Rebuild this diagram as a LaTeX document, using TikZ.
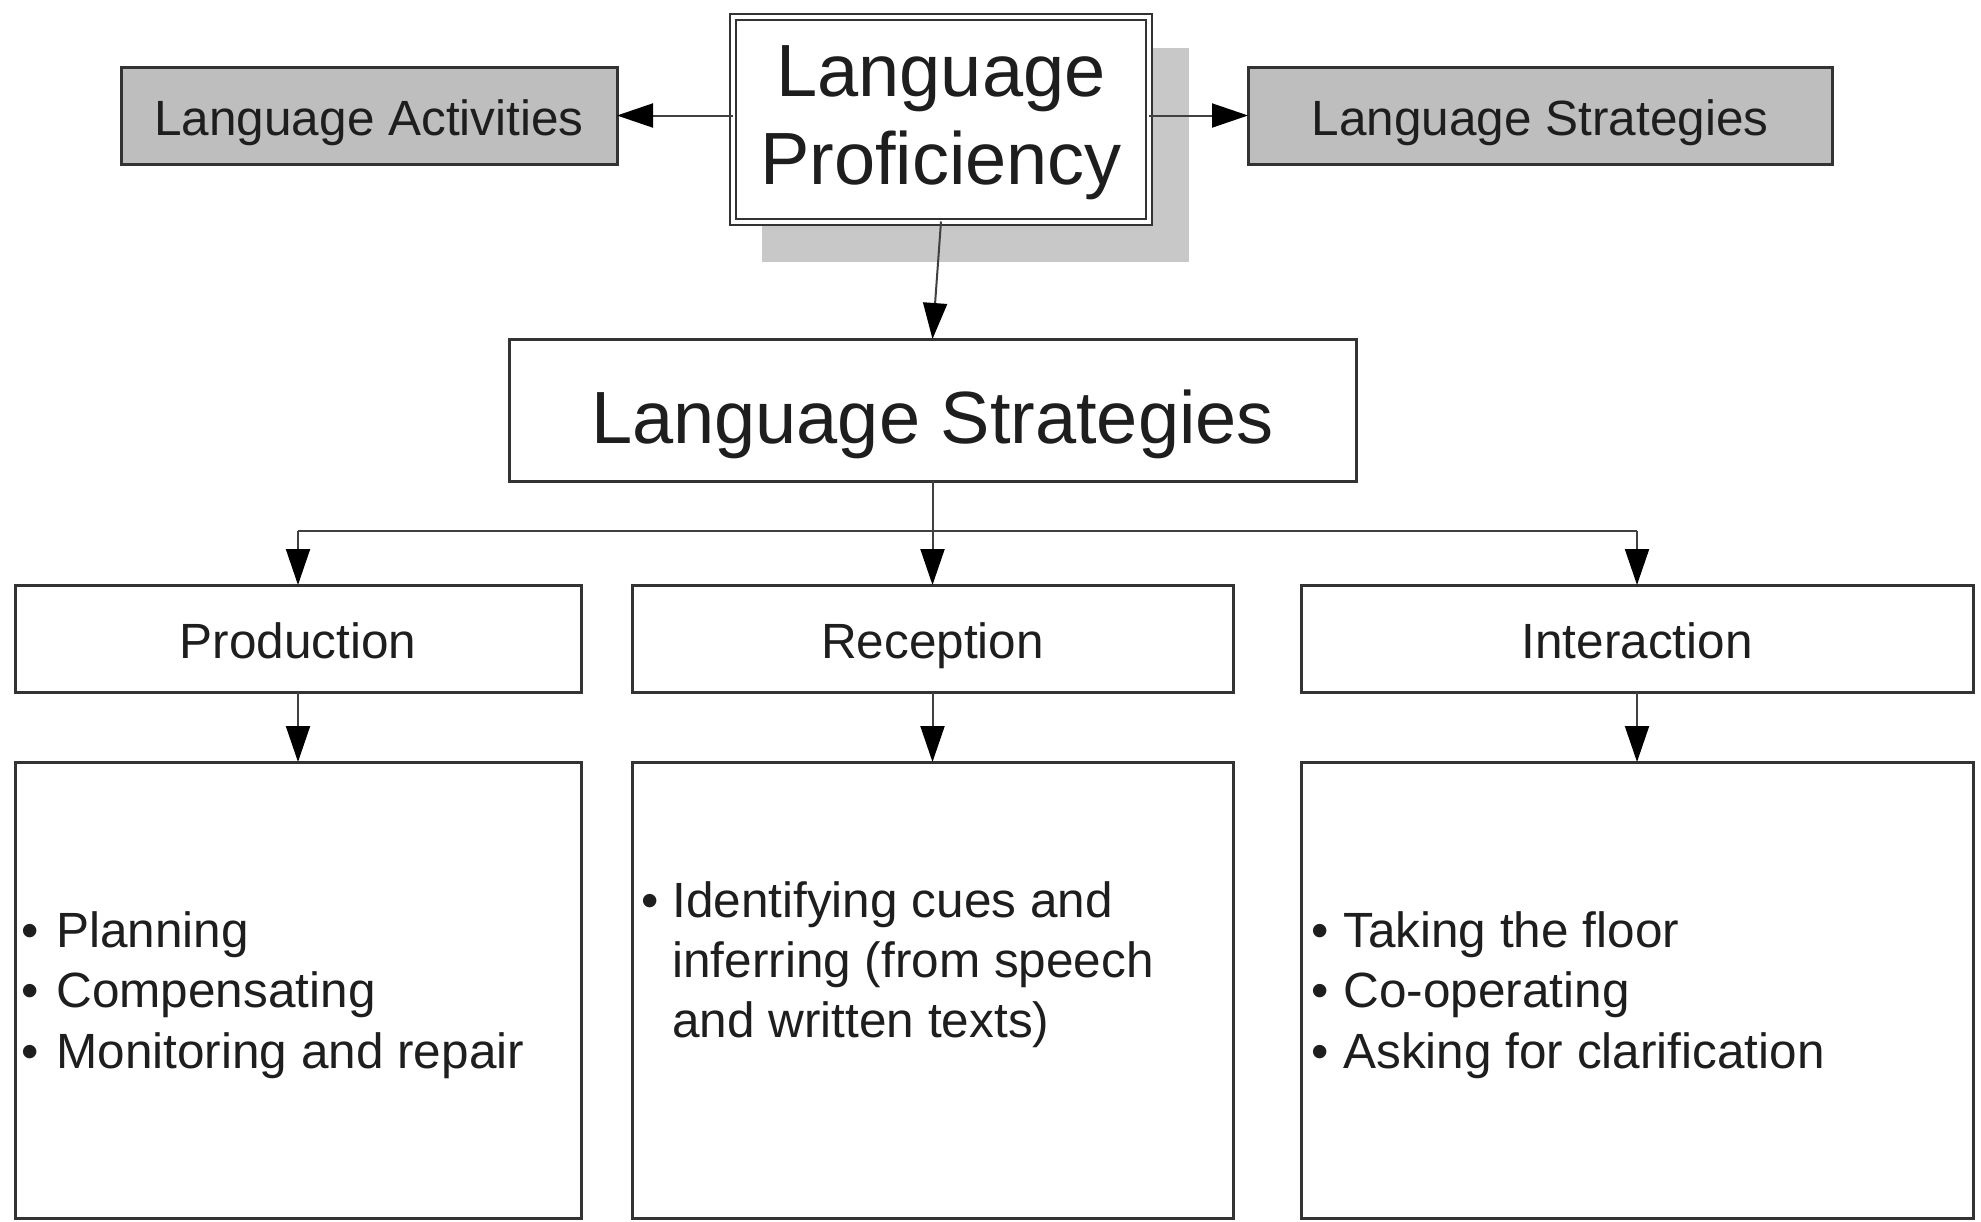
\documentclass[tikz,border=0pt]{standalone}
\usepackage{fontspec}
\setmainfont{Liberation Sans}
\usetikzlibrary{arrows.meta}
\definecolor{edge}{HTML}{333333}
\definecolor{wire}{HTML}{404040}
\definecolor{ink}{HTML}{1E1E1E}
\definecolor{boxgray}{HTML}{BEBEBE}
\definecolor{shadowgray}{HTML}{C8C8C8}

\begin{document}
\begin{tikzpicture}[x=0.5pt,y=-0.5pt,
  box/.style={draw=edge, line width=1.5pt, fill=white, inner sep=0pt, outer sep=0pt, text=ink},
  small/.style={font=\fontsize{24.75}{30}\selectfont},
  big/.style={font=\fontsize{37}{44}\selectfont},
  oneline/.style={text height=19.7pt, text depth=0pt},
  link/.style={draw=wire, line width=1pt, -{Triangle[length=18pt,width=12pt,color=black]}},
  plain/.style={draw=wire, line width=1pt},
  item/.style={anchor=base west, inner sep=0pt, text=ink, small},
  dot/.style={anchor=base, inner sep=0pt, text=ink, small},
]
\useasboundingbox (0,0) rectangle (1981,1221);
\fill[white] (0,0) rectangle (1981,1221);

% shadow behind the central box
\fill[shadowgray] (762,48) rectangle (1189,262);

% top row
\node[box, double=white, double distance=2pt, line width=1pt,
      minimum width=208pt, minimum height=102.5pt]
      (prof) at (941,119) {};
\node[big, align=center, text=ink, inner sep=0pt]
      (proftext) at ([yshift=-2pt]prof.center) {Language\\Proficiency};
\node[box, fill=boxgray, minimum width=248pt, minimum height=48.5pt, small, oneline]
      (act) at (369,115.5) {Language Activities};
\node[box, fill=boxgray, minimum width=292pt, minimum height=48.5pt, small, oneline]
      (strat) at (1540,115.5) {Language Strategies};

% middle
\node[box, minimum width=423.5pt, minimum height=71pt, big, text height=33.5pt, text depth=0pt]
      (ls) at (932.5,410) {Language Strategies};

% headers
\node[box, minimum width=283pt, minimum height=53.5pt, small, oneline] (prod) at (298,638.5) {Production};
\node[box, minimum width=300.5pt, minimum height=53.5pt, small, oneline] (recp) at (932.5,638.5) {Reception};
\node[box, minimum width=336pt, minimum height=53.5pt, small, oneline] (intr) at (1637,638.5) {Interaction};

% detail boxes
\node[box, minimum width=283pt, minimum height=228pt] (prodbox) at (298,990) {};
\node[box, minimum width=300.5pt, minimum height=228pt] (recpbox) at (932.5,990) {};
\node[box, minimum width=336pt, minimum height=228pt] (intrbox) at (1637,990) {};

% connectors
\draw[link] (prof.west |- act.east) -- (act.east);
\draw[link] (prof.east |- strat.west) -- (strat.west);
\draw[link] (prof.south) -- (ls.north);
\coordinate (bus) at (932.5,531);
\draw[plain] (ls.south) -- (ls.south |- bus);
\draw[plain] (prod.north |- bus) -- (intr.north |- bus);
\draw[link] (prod.north |- bus) -- (prod.north);
\draw[link] (recp.north |- bus) -- (recp.north);
\draw[link] (intr.north |- bus) -- (intr.north);
\draw[link] (prod.south) -- (prodbox.north);
\draw[link] (recp.south) -- (recpbox.north);
\draw[link] (intr.south) -- (intrbox.north);

% production items
\node[dot] (pd1) at (30,947) {•};
\node[item] (pt1) at (56,947) {Planning};
\node[dot] (pd2) at (30,1007.5) {•};
\node[item] (pt2) at (56,1007.5) {Compensating};
\node[dot] (pd3) at (30,1068) {•};
\node[item] (pt3) at (56,1068) {Monitoring and repair};

% reception items
\node[dot] (rd1) at (650,917) {•};
\node[item] (rt1) at (672,917) {Identifying cues and};
\node[item] (rt2) at (672,977) {inferring (from speech};
\node[item] (rt3) at (672,1037) {and written texts)};

% interaction items
\node[dot] (id1) at (1320,947) {•};
\node[item] (it1) at (1343,947) {Taking the floor};
\node[dot] (id2) at (1320,1007.5) {•};
\node[item] (it2) at (1343,1007.5) {Co-operating};
\node[dot] (id3) at (1320,1068) {•};
\node[item] (it3) at (1343,1068) {Asking for clarification};
\end{tikzpicture}
\end{document}
